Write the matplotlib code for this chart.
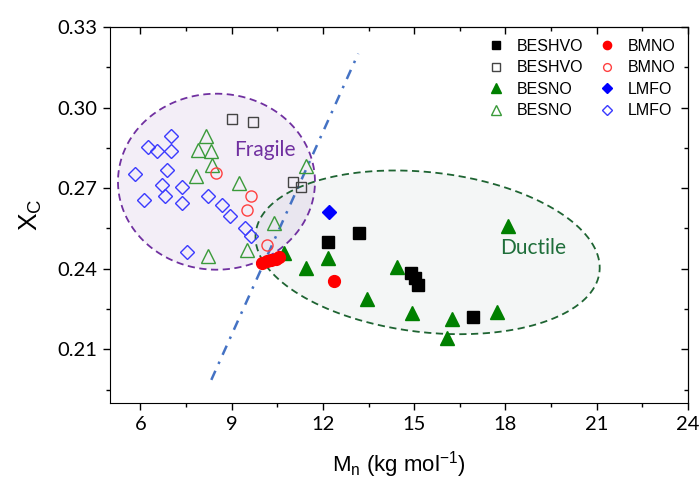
import numpy as np
import matplotlib
matplotlib.use("Agg")
import matplotlib.pyplot as plt
from matplotlib.ticker import MultipleLocator

plt.rcParams['mathtext.fontset'] = 'custom'
plt.rcParams['mathtext.rm'] = 'Liberation Sans'
plt.rcParams['mathtext.it'] = 'Liberation Sans'

# data: Mn (kg/mol) vs Xc
beshvo_x = [12.16, 13.20, 14.89, 15.03, 15.11, 16.93]
beshvo_y = [0.2501, 0.2532, 0.2383, 0.2365, 0.2340, 0.2222]
beshvo_open_x = [9.02, 9.70, 11.01, 11.29]
beshvo_open_y = [0.2959, 0.2946, 0.2723, 0.2706]

besno_x = [10.72, 11.45, 12.16, 13.45, 14.43, 14.94, 16.23, 16.09, 17.71, 18.08]
besno_y = [0.2460, 0.2402, 0.2439, 0.2288, 0.2408, 0.2234, 0.2213, 0.2141, 0.2240, 0.2560]
besno_open_x = [8.17, 7.90, 8.33, 8.36, 7.84, 9.24, 11.45, 10.38, 9.51, 8.22]
besno_open_y = [0.2896, 0.2843, 0.2837, 0.2787, 0.2744, 0.2719, 0.2781, 0.2570, 0.2470, 0.2447]

bmno_x = [10.0, 10.15, 10.3, 10.45, 10.55, 12.35]
bmno_y = [0.2423, 0.2428, 0.2432, 0.2437, 0.2442, 0.2355]
bmno_open_x = [8.50, 9.64, 9.51, 10.17]
bmno_open_y = [0.2756, 0.2669, 0.2619, 0.2489]

lmfo_x = [12.21]
lmfo_y = [0.2611]
lmfo_open_x = [6.26, 6.53, 7.0, 7.0, 5.82, 6.86, 6.71, 7.38, 6.80, 6.11, 7.38, 8.22, 8.69, 8.93, 9.45, 9.64, 7.53]
lmfo_open_y = [0.2855, 0.2837, 0.2893, 0.2840, 0.2752, 0.2768, 0.2712, 0.2704, 0.2670, 0.2654,
               0.2644, 0.2669, 0.2638, 0.2598, 0.2551, 0.2520, 0.2462]

# dash-dot boundary line (two end points)
line_x = [8.33, 13.16]
line_y = [0.1986, 0.3201]

xmin, xmax = 5, 24
ymin, ymax = 0.19, 0.33

fig = plt.figure(figsize=(7, 4.86), dpi=100)
left, right, bottom, top = 110 / 700, 688 / 700, 1 - 403 / 486, 1 - 27 / 486
ax = fig.add_axes([left, bottom, right - left, top - bottom])
ax.set_xlim(xmin, xmax)
ax.set_ylim(ymin, ymax)

# pixels per data unit, so the ellipses can be set up in screen space
sx = (right - left) * 700 / (xmax - xmin)
sy = (top - bottom) * 486 / (ymax - ymin)


def region(cx, cy, a, b, ang):
    t = np.linspace(0, 2 * np.pi, 300)
    u = a * np.cos(t)
    v = b * np.sin(t)
    r = np.deg2rad(ang)
    uu = u * np.cos(r) - v * np.sin(r)
    vv = u * np.sin(r) + v * np.cos(r)
    return cx + uu / sx, cy + vv / sy


fx, fy = region(8.50, 0.2724, 98.5, 88, 0)
ax.fill(fx, fy, color="#7030a0", alpha=0.08, lw=0, zorder=1)
ax.plot(fx, fy, color="#7030a0", lw=1.3, ls=(0, (4, 2.5)), zorder=2)

dx, dy = region(15.44, 0.2461, 173, 80, -6.5)
ax.fill(dx, dy, color="#2f5f5f", alpha=0.05, lw=0, zorder=1)
ax.plot(dx, dy, color="#1e6432", lw=1.3, ls=(0, (4, 2.5)), zorder=2)

ax.plot(line_x, line_y, color="#4472c4", lw=1.8, ls=(0, (4, 3, 1, 3)), zorder=3)

ax.text(10.08, 0.2843, "Fragile", color="#7030a0", fontsize=15, family="Lato",
        ha="center", va="center", zorder=4)
ax.text(18.90, 0.2478, "Ductile", color="#1e6e3a", fontsize=15, family="Lato",
        ha="center", va="center", zorder=4)

ax.plot(beshvo_x, beshvo_y, 's', color="black", ms=8, ls="none", label="BESHVO", zorder=5)
ax.plot(beshvo_open_x, beshvo_open_y, 's', mfc="none", mec="#444444", mew=1, ms=7.5, ls="none",
        label="BESHVO", zorder=5)
ax.plot(besno_x, besno_y, '^', color="#008000", ms=10, ls="none", label="BESNO", zorder=5)
ax.plot(besno_open_x, besno_open_y, '^', mfc="none", mec="#3a9a3a", mew=1, ms=10, ls="none",
        label="BESNO", zorder=5)
ax.plot(bmno_x, bmno_y, 'o', color="#ff0000", ms=8.5, ls="none", label="BMNO", zorder=5)
ax.plot(bmno_open_x, bmno_open_y, 'o', mfc="none", mec="#ff4040", mew=1, ms=8, ls="none",
        label="BMNO", zorder=5)
ax.plot(lmfo_x, lmfo_y, 'D', color="#0000ff", ms=7.5, ls="none", label="LMFO", zorder=5)
ax.plot(lmfo_open_x, lmfo_open_y, 'D', mfc="none", mec="#3a3aff", mew=1, ms=7, ls="none",
        label="LMFO", zorder=5)

leg = ax.legend(ncol=2, loc="upper right", bbox_to_anchor=(0.99, 0.985), frameon=False,
                markerscale=0.7, handlelength=1.0, handletextpad=0.8, columnspacing=1.0,
                labelspacing=0.4, borderaxespad=0,
                prop={"family": "Liberation Sans", "size": 11.5})

ax.xaxis.set_major_locator(MultipleLocator(3))
ax.xaxis.set_minor_locator(MultipleLocator(1.5))
ax.yaxis.set_major_locator(MultipleLocator(0.03))
ax.yaxis.set_minor_locator(MultipleLocator(0.015))
ax.tick_params(which="both", direction="out", width=1)
ax.tick_params(which="major", length=5, pad=4)
ax.tick_params(which="minor", length=3)
for lab in ax.get_xticklabels() + ax.get_yticklabels():
    lab.set_family("Lato")
    lab.set_fontsize(14.5)
ax.yaxis.set_major_formatter(matplotlib.ticker.FormatStrFormatter("%.2f"))

# inward ticks on the top and right edges
top_ax = ax.secondary_xaxis("top")
top_ax.xaxis.set_major_locator(MultipleLocator(3))
top_ax.xaxis.set_minor_locator(MultipleLocator(1.5))
top_ax.tick_params(which="both", direction="in", labeltop=False, width=1)
top_ax.tick_params(which="major", length=5)
top_ax.tick_params(which="minor", length=3)
right_ax = ax.secondary_yaxis("right")
right_ax.yaxis.set_major_locator(MultipleLocator(0.03))
right_ax.yaxis.set_minor_locator(MultipleLocator(0.015))
right_ax.tick_params(which="both", direction="in", labelright=False, width=1)
right_ax.tick_params(which="major", length=5)
right_ax.tick_params(which="minor", length=3)

ax.set_xlabel(r"M$_\mathregular{n}$ (kg mol$^\mathregular{-1}$)", fontsize=16,
              family="Liberation Sans", labelpad=12)
ax.set_ylabel(r"X$_\mathregular{C}$", fontsize=19, family="Liberation Sans", labelpad=10)

fig.savefig("out.png", dpi=100)
